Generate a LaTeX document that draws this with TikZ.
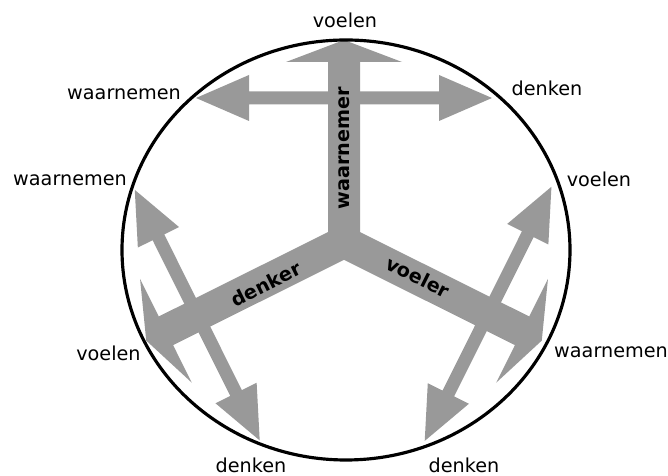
\documentclass[tikz,border=0pt]{standalone}
\usepackage{fontspec}
\setmainfont{DejaVu Sans}
\usepackage{xcolor}
\usepackage{tikz}
\usetikzlibrary{calc}
\definecolor{ArmGray} {HTML}{999999}
\definecolor{RimBlack}{HTML}{000000}

\begin{document}
\begin{tikzpicture}[x=0.3mm, y=0.3mm,
    lbl/.style={font=\fontsize{16.4}{19}\selectfont, text=black, inner sep=0pt},
    armlbl/.style={font=\fontsize{16.4}{19}\selectfont\bfseries, text=black, inner sep=0pt}]
      \useasboundingbox (0,0) rectangle (668,476);
      \coordinate (ctr) at (344,234);
      % ── three thick arms, each with a cross double arrow ─────────────────────
      \foreach \ang/\len/\pos/\half in {90/202/144/148, 206.5/221/164/140, -26.5/221/161/142} {
        \begin{scope}[shift={(ctr)}, rotate=\ang]
          \fill[ArmGray] (0,-16) -- (\len-22,-16) -- (\len-22,-58) -- (\len,0)
            -- (\len-22,58) -- (\len-22,16) -- (0,16) -- cycle;
          \fill[ArmGray] (\pos-6.5,-\half+53) -- (\pos-23,-\half+53) -- (\pos,-\half)
            -- (\pos+23,-\half+53) -- (\pos+6.5,-\half+53) -- (\pos+6.5,\half-53)
            -- (\pos+23,\half-53) -- (\pos,\half) -- (\pos-23,\half-53)
            -- (\pos-6.5,\half-53) -- cycle;
        \end{scope}
      }
      % ── outer rim ────────────────────────────────────────────────────────────
      \draw[RimBlack, line width=0.95mm] (346,226) ellipse [x radius=224, y radius=210];
      % ── arm names ────────────────────────────────────────────────────────────
      \node[armlbl, rotate=90]    (nWaarnemer) at (344,328) {waarnemer};
      \node[armlbl, rotate=26.5]  (nDenker)    at (266,192) {denker};
      \node[armlbl, rotate=-26.5] (nVoeler)    at (418,199) {voeler};
      % ── outer labels ─────────────────────────────────────────────────────────
      \node[lbl] (tVoelen)   at (345,455.5) {voelen};
      \node[lbl] (tWaarnL)   at (124,381.5) {waarnemen};
      \node[lbl] (tDenkenR)  at (547,387.5) {denken};
      \node[lbl] (lWaarn)    at (70,295.5)  {waarnemen};
      \node[lbl] (lVoelen)   at (108.5,122.5) {voelen};
      \node[lbl] (lDenken)   at (251,11)    {denken};
      \node[lbl] (rVoelen)   at (599,296.5) {voelen};
      \node[lbl] (rWaarn)    at (611,123.5) {waarnemen};
      \node[lbl] (rDenken)   at (464,11)    {denken};
    \end{tikzpicture}
\end{document}
